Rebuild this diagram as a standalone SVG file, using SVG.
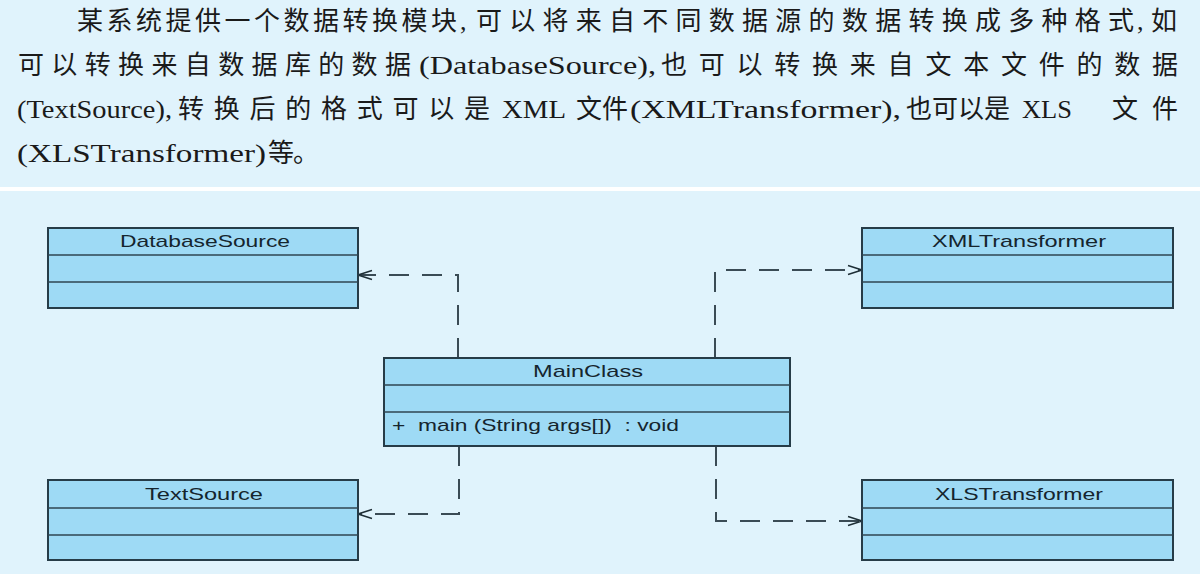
<svg xmlns="http://www.w3.org/2000/svg" width="1200" height="574" viewBox="0 0 1200 574">
  <style>
    .para { font-family: "Liberation Serif", "Noto Sans CJK SC", serif; font-size: 26px; fill: #1a1a1a; }
    .box { fill: #9edaf5; stroke: #263c48; stroke-width: 2; }
    .div { stroke: #2e4550; stroke-width: 1.3; }
    .lbl { font-family: "Liberation Sans", Arial, sans-serif; font-size: 17px; fill: #15252e; }
    .dep { fill: none; stroke: #3a4b55; stroke-width: 2; stroke-dasharray: 20 13; }
    .head { fill: none; stroke: #1e2e36; stroke-width: 1.4; }
  </style>
  <defs>
    <marker id="open" viewBox="0 0 16 12" refX="15" refY="6" markerWidth="16" markerHeight="12" markerUnits="userSpaceOnUse" orient="auto">
      <path d="M1,1.5 L15,6 L1,10.5" class="head"/>
    </marker>
  </defs>
  <rect x="0" y="0" width="1200" height="574" fill="#e0f3fc"/>
  <rect x="0" y="187" width="1200" height="4" fill="#ffffff"/>

  <g id="paragraph">
    <text class="para" y="30"><tspan x="77" textLength="380" lengthAdjust="spacing">某系统提供一个数据转换模块</tspan><tspan x="460">,</tspan><tspan x="476" textLength="658" lengthAdjust="spacing">可以将来自不同数据源的数据转换成多种格式</tspan><tspan x="1137">,</tspan><tspan x="1151">如</tspan></text>
    <text class="para" y="74"><tspan x="18" textLength="393" lengthAdjust="spacing">可以转换来自数据库的数据</tspan><tspan x="419" textLength="237" lengthAdjust="spacingAndGlyphs">(DatabaseSource),</tspan><tspan x="661" textLength="517" lengthAdjust="spacing">也可以转换来自文本文件的数据</tspan></text>
    <text class="para" y="118"><tspan x="17" textLength="155" lengthAdjust="spacingAndGlyphs">(TextSource),</tspan><tspan x="178" textLength="312" lengthAdjust="spacing">转换后的格式可以是</tspan><tspan x="502" textLength="64" lengthAdjust="spacingAndGlyphs">XML</tspan><tspan x="576" textLength="52" lengthAdjust="spacing">文件</tspan><tspan x="630" textLength="271" lengthAdjust="spacingAndGlyphs">(XMLTransformer),</tspan><tspan x="906" textLength="104" lengthAdjust="spacing">也可以是</tspan><tspan x="1022" textLength="50" lengthAdjust="spacingAndGlyphs">XLS</tspan><tspan x="1112" textLength="66" lengthAdjust="spacing">文件</tspan></text>
    <text class="para" y="162"><tspan x="17" textLength="249" lengthAdjust="spacingAndGlyphs">(XLSTransformer)</tspan><tspan x="268">等</tspan><tspan x="293">。</tspan></text>
  </g>

  <g id="connectors">
    <path class="dep" d="M458,358 V275 H358" marker-end="url(#open)"/>
    <path class="dep" d="M715,358 V270 H862" marker-end="url(#open)"/>
    <path class="dep" d="M459,446 V514 H358" marker-end="url(#open)"/>
    <path class="dep" d="M716,446 V521 H862" marker-end="url(#open)"/>
  </g>

  <g id="DatabaseSource">
    <rect class="box" x="48" y="228" width="310" height="80"/>
    <line class="div" x1="48" y1="255" x2="358" y2="255"/>
    <line class="div" x1="48" y1="282" x2="358" y2="282"/>
    <text class="lbl" x="120" y="247" textLength="170" lengthAdjust="spacingAndGlyphs">DatabaseSource</text>
  </g>

  <g id="XMLTransformer">
    <rect class="box" x="862" y="228" width="311" height="80"/>
    <line class="div" x1="862" y1="255" x2="1173" y2="255"/>
    <line class="div" x1="862" y1="282" x2="1173" y2="282"/>
    <text class="lbl" x="932" y="247" textLength="174" lengthAdjust="spacingAndGlyphs">XMLTransformer</text>
  </g>

  <g id="MainClass">
    <rect class="box" x="384" y="358" width="406" height="88"/>
    <line class="div" x1="384" y1="385" x2="790" y2="385"/>
    <line class="div" x1="384" y1="412" x2="790" y2="412"/>
    <text class="lbl" x="533" y="377" textLength="110" lengthAdjust="spacingAndGlyphs">MainClass</text>
    <text class="lbl" x="392" y="431" textLength="287" lengthAdjust="spacingAndGlyphs" xml:space="preserve">+  main (String args[])  : void</text>
  </g>

  <g id="TextSource">
    <rect class="box" x="48" y="480" width="310" height="80"/>
    <line class="div" x1="48" y1="508" x2="358" y2="508"/>
    <line class="div" x1="48" y1="535" x2="358" y2="535"/>
    <text class="lbl" x="145" y="500" textLength="118" lengthAdjust="spacingAndGlyphs">TextSource</text>
  </g>

  <g id="XLSTransformer">
    <rect class="box" x="862" y="480" width="311" height="80"/>
    <line class="div" x1="862" y1="508" x2="1173" y2="508"/>
    <line class="div" x1="862" y1="535" x2="1173" y2="535"/>
    <text class="lbl" x="935" y="500" textLength="168" lengthAdjust="spacingAndGlyphs">XLSTransformer</text>
  </g>
</svg>
